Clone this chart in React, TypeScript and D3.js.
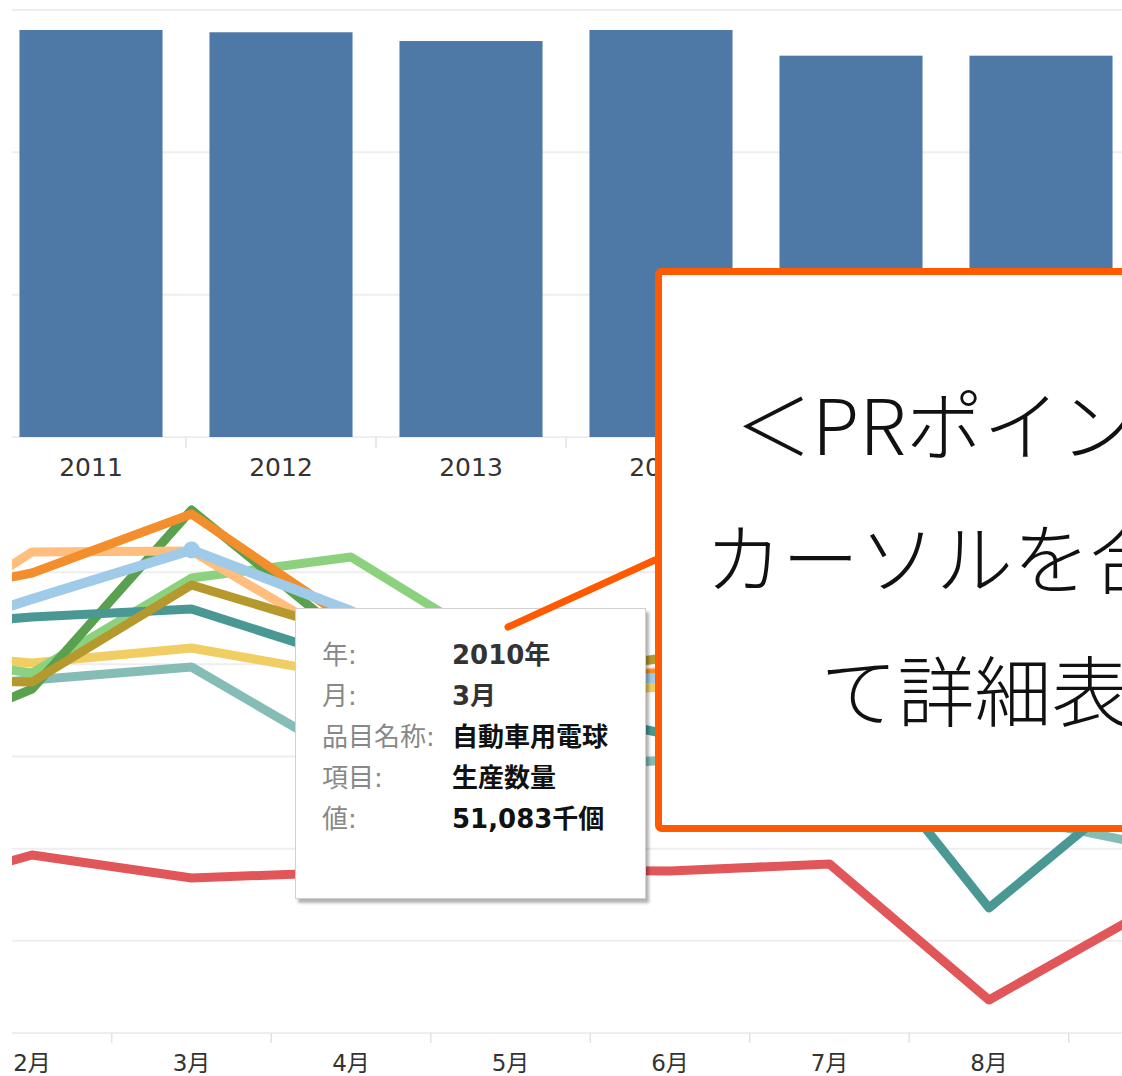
import React from "react";
import * as d3 from "d3";

// 年別 生産数量 (千個)
const years = ["2011", "2012", "2013", "2014", "2015", "2016"];
const yearTotals = [571900, 568700, 556400, 571900, 535800, 535800];
const barTicks = [0, 200000, 400000, 600000];

// 月別 生産数量 (千個), 1月〜9月
const months = [1, 2, 3, 4, 5, 6, 7, 8, 9];
const monthLabels = ["2月", "3月", "4月", "5月", "6月", "7月", "8月"];
const monthLabelValues = [2, 3, 4, 5, 6, 7, 8];
const lineTicks = [0, 10000, 20000, 30000, 40000, 50000];

const seriesNames = [
  "ハロゲン電球",
  "白熱電球",
  "反射形電球",
  "小形電球",
  "蛍光ランプ",
  "HIDランプ",
  "特殊電球",
  "直管形蛍光ランプ",
  "自動車用電球",
  "ミニチュア電球",
];
const seriesColors = [
  "#86bcb6",
  "#f1ce63",
  "#8cd17d",
  "#59a14f",
  "#499894",
  "#ffbe7d",
  "#f28e2b",
  "#b6992d",
  "#a0cbe8",
  "#e15759",
];
const lightTeal = [37216, 38301, 39711, 29621, 28536, 29621, 28536, 23979, 20398];
const yellow = [41556, 40145, 41773, 38735, 36131, 37650, 35588, 32333, 33961];
const lightGreen = [41556, 39060, 49368, 51646, 41013, 38301, 35588, 31791, 33961];
const darkGreen = [30163, 37324, 56746, 42641, 37216, 38843, 36131, 33961, 36131];
const teal = [43726, 45136, 46004, 40471, 36131, 32333, 35263, 13563, 27885];
const lightOrange = [41013, 52189, 52297, 42098, 37216, 39386, 36131, 32876, 35046];
const orange = [46438, 49910, 56312, 44594, 38301, 39060, 37216, 35588, 37216];
const olive = [38301, 38084, 48608, 43400, 38301, 40796, 37216, 34503, 36131];
const lightBlue = [41556, 47089, 52406, 45787, 38301, 38518, 36673, 34829, 36131];
const red = [14431, 19313, 16818, 17469, 17686, 17577, 18337, 3581, 13346];
const seriesValues = [lightTeal, yellow, lightGreen, darkGreen, teal, lightOrange, orange, olive, lightBlue, red];
const drawOrder = [0, 1, 2, 3, 4, 5, 6, 7, 9, 8];
const highlightSeries = 8;
const highlightMonth = 3;

const tooltipLabels = ["年:", "月:", "品目名称:", "項目:", "値:"];
const tooltipValues = ["2010年", "3月", "自動車用電球", "生産数量", "51,083千個"];

const calloutLines = ["＜PRポイント＞", "カーソルを合わせ", "て詳細表示"];

const W = 1122;
const H = 1076;
const grid = "#eeeeee";
const accent = "#ff5a00";
const font = '"DejaVu Sans", "Noto Sans CJK JP", sans-serif';

export default function App() {
  // bar chart
  const xBar = d3
    .scaleBand<string>()
    .domain(years)
    .range([-4, -4 + 190 * years.length])
    .paddingInner(0.247)
    .paddingOuter(0.1235);
  const yBar = d3.scaleLinear().domain([0, 600000]).range([437, 10]);

  // line chart
  const xLine = d3.scaleLinear().domain([2, 8]).range([32, 989]);
  const yLine = d3.scaleLinear().domain([0, 60000]).range([1033, 480]);
  const line = d3
    .line<number>()
    .x((d, i) => xLine(months[i]))
    .y((d) => yLine(d));

  const step = xBar.step();

  return (
    <div style={{ position: "absolute", left: 0, top: 0, width: W, height: H, overflow: "hidden", background: "#fff" }}>
      <svg width={W} height={H} style={{ display: "block", fontFamily: font }}>
        <defs>
          <clipPath id="plot">
            <rect x={12} y={480} width={W - 12} height={560} />
          </clipPath>
          <filter id="shadow" x="-10%" y="-10%" width="130%" height="130%">
            <feDropShadow dx={3} dy={4} stdDeviation={1.5} floodColor="#000" floodOpacity={0.3} />
          </filter>
        </defs>

        {/* bar chart grid */}
        {barTicks.map((t) => (
          <line key={t} x1={12} x2={W} y1={yBar(t)} y2={yBar(t)} stroke={grid} strokeWidth={2} />
        ))}
        {years.slice(0, -1).map((y) => {
          const bx = (xBar(y) as number) + xBar.bandwidth() / 2 + step / 2;
          return <line key={"bt" + y} x1={bx} x2={bx} y1={437} y2={448} stroke="#e2e2e2" strokeWidth={1.5} />;
        })}
        {years.map((y, i) => (
          <rect
            key={y}
            x={xBar(y)}
            y={yBar(yearTotals[i])}
            width={xBar.bandwidth()}
            height={yBar(0) - yBar(yearTotals[i])}
            fill="#4e79a7"
          />
        ))}
        {years.map((y) => (
          <text
            key={"yl" + y}
            x={(xBar(y) as number) + xBar.bandwidth() / 2}
            y={476}
            textAnchor="middle"
            fontSize={25}
            fill="#333"
          >
            {y}
          </text>
        ))}

        {/* line chart grid */}
        {lineTicks.map((t) => (
          <line key={"lg" + t} x1={12} x2={W} y1={yLine(t)} y2={yLine(t)} stroke={grid} strokeWidth={2} />
        ))}
        {monthLabelValues.map((m) => {
          const tx = xLine(m + 0.5);
          return <line key={"mt" + m} x1={tx} x2={tx} y1={1033} y2={1043} stroke="#e2e2e2" strokeWidth={1.5} />;
        })}
        {monthLabels.map((lab, i) => (
          <text key={lab} x={xLine(monthLabelValues[i])} y={1071} textAnchor="middle" fontSize={23} fill="#333">
            {lab}
          </text>
        ))}

        <g clipPath="url(#plot)">
          {drawOrder.map((s) => (
            <path
              key={seriesNames[s]}
              d={line(seriesValues[s]) || ""}
              fill="none"
              stroke={seriesColors[s]}
              strokeWidth={s === highlightSeries ? 10 : 9}
              strokeLinejoin="round"
              strokeLinecap="round"
            />
          ))}
          <circle
            cx={xLine(highlightMonth)}
            cy={yLine(seriesValues[highlightSeries][months.indexOf(highlightMonth)])}
            r={8.5}
            fill={seriesColors[highlightSeries]}
          />
        </g>

        {/* tooltip */}
        <rect x={295.5} y={608.5} width={350} height={290} fill="#fff" stroke="#d0d0d0" strokeWidth={1} filter="url(#shadow)" />
        {tooltipLabels.map((lab, i) => (
          <g key={lab}>
            <text x={322} y={664 + i * 41} fontSize={26} fill="#888">
              {lab}
            </text>
            <text x={452} y={664 + i * 41} fontSize={26} fontWeight="bold" fill={i < 2 ? "#333" : "#111"}>
              {tooltipValues[i]}
            </text>
          </g>
        ))}

        {/* callout */}
        <line x1={508} y1={627} x2={655} y2={560} stroke={accent} strokeWidth={7} strokeLinecap="round" />
        <rect x={658.5} y={271.5} width={640} height={557} rx={3} fill="#fff" stroke={accent} strokeWidth={7} />
        {calloutLines.map((t, i) => (
          <text
            key={t}
            x={1013}
            y={455 + i * 133}
            textAnchor="middle"
            fontSize={77}
            fontWeight={300}
            fill="#111"
            style={{ fontFamily: '"Noto Sans CJK JP", sans-serif' }}
          >
            {t}
          </text>
        ))}
      </svg>
    </div>
  );
}
